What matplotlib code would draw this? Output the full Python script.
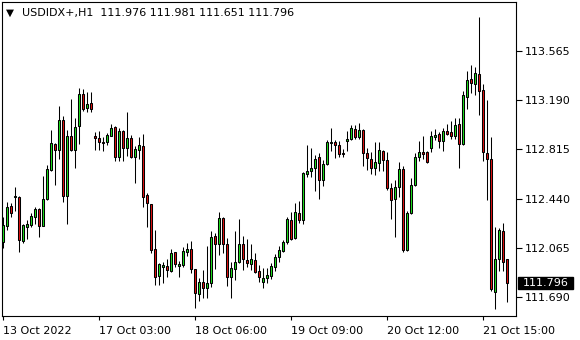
import matplotlib
matplotlib.use("Agg")
import matplotlib.pyplot as plt
from matplotlib.patches import Rectangle
import matplotlib.transforms as mtransforms
import numpy as np

# hourly candles
opens = [112.111, 112.233, 112.382, 112.455, 112.453, 112.119, 112.226, 112.241, 112.302, 112.359,
         112.233, 112.435, 112.660, 112.856, 112.810, 113.040, 112.463, 112.918, 112.807, 112.996,
         113.241, 113.129, 113.170, 112.918, 112.902, 112.874, 112.872, 112.920, 112.986, 112.761,
         112.958, 112.823, 112.902, 112.761, 112.807, 112.843, 112.466, 112.397, 112.053, 111.851,
         111.920, 111.925, 111.889, 112.030, 111.927, 111.933, 112.034, 112.055, 111.900, 111.708,
         111.800, 111.754, 111.793, 112.155, 112.091, 112.292, 112.091, 111.843, 111.900, 111.953,
         112.091, 111.971, 111.940, 111.971, 111.884, 111.800, 111.831, 111.849, 111.920, 111.992,
         112.042, 112.106, 112.277, 112.137, 112.328, 112.272, 112.629, 112.647, 112.677, 112.757,
         112.578, 112.700, 112.861, 112.874, 112.849, 112.787, 112.876, 112.895, 112.973, 112.907,
         112.966, 112.787, 112.742, 112.677, 112.711, 112.805, 112.736, 112.522, 112.435, 112.527,
         112.667, 112.047, 112.333, 112.545, 112.757, 112.795, 112.795, 112.826, 112.907, 112.933,
         112.876, 112.958, 112.948, 112.915, 113.012, 112.859, 113.216, 113.356, 113.318, 113.394,
         113.272, 112.787, 112.744, 111.728, 111.979, 112.193, 111.976]
highs = [112.302, 112.417, 112.405, 112.530, 112.461, 112.246, 112.277, 112.333, 112.374, 112.367,
         112.614, 112.698, 112.966, 112.866, 113.149, 113.073, 112.966, 113.203, 113.055, 113.285,
         113.277, 113.251, 113.257, 112.951, 112.956, 112.910, 112.941, 113.012, 112.991, 112.979,
         112.966, 113.101, 112.928, 112.838, 112.910, 112.935, 112.481, 112.400, 112.200, 111.950,
         111.953, 111.976, 112.055, 112.032, 111.963, 112.073, 112.099, 112.116, 111.902, 111.831,
         111.894, 112.080, 112.188, 112.175, 112.338, 112.302, 112.137, 111.958, 112.193, 112.285,
         112.155, 112.132, 112.093, 112.022, 111.933, 111.907, 111.907, 111.950, 112.017, 112.078,
         112.124, 112.302, 112.336, 112.409, 112.422, 112.639, 112.851, 112.826, 112.774, 112.787,
         112.731, 112.884, 112.981, 112.889, 112.876, 112.818, 112.958, 113.004, 112.999, 113.017,
         112.970, 112.826, 112.795, 112.869, 112.869, 112.807, 112.795, 112.558, 112.583, 112.716,
         112.685, 112.341, 112.596, 112.787, 112.882, 112.915, 112.805, 112.958, 112.973, 112.951,
         112.979, 113.009, 113.035, 113.055, 113.055, 113.264, 113.417, 113.463, 113.443, 113.825,
         113.318, 113.190, 112.907, 112.221, 112.213, 112.252, 111.981]
lows = [112.065, 112.200, 112.300, 112.346, 112.034, 112.103, 112.134, 112.226, 112.246, 112.149,
        112.228, 112.430, 112.654, 112.545, 112.744, 112.417, 112.246, 112.803, 112.677, 112.859,
        113.111, 113.098, 113.098, 112.810, 112.813, 112.803, 112.846, 112.915, 112.723, 112.723,
        112.723, 112.767, 112.749, 112.558, 112.742, 112.374, 112.221, 112.027, 111.780, 111.780,
        111.797, 111.843, 111.881, 111.920, 111.843, 111.920, 112.004, 111.874, 111.606, 111.659,
        111.678, 111.678, 111.767, 111.900, 112.009, 112.022, 111.772, 111.678, 111.818, 111.946,
        111.894, 111.920, 111.894, 111.869, 111.805, 111.759, 111.793, 111.826, 111.889, 111.958,
        112.034, 112.093, 112.124, 112.129, 112.256, 112.246, 112.604, 112.608, 112.501, 112.435,
        112.532, 112.693, 112.800, 112.746, 112.757, 112.761, 112.803, 112.889, 112.897, 112.897,
        112.685, 112.660, 112.629, 112.621, 112.647, 112.647, 112.507, 112.287, 112.149, 112.448,
        112.034, 112.042, 112.323, 112.537, 112.723, 112.742, 112.711, 112.792, 112.884, 112.823,
        112.800, 112.928, 112.895, 112.895, 112.677, 112.851, 113.127, 113.247, 113.228, 113.081,
        112.723, 112.425, 111.736, 111.596, 111.889, 111.889, 111.651]
closes = [112.239, 112.377, 112.333, 112.457, 112.126, 112.237, 112.246, 112.308, 112.359, 112.233,
          112.435, 112.665, 112.864, 112.810, 113.040, 112.463, 112.918, 112.807, 112.986, 113.241,
          113.124, 113.165, 113.121, 112.899, 112.869, 112.864, 112.928, 112.979, 112.761, 112.958,
          112.823, 112.902, 112.757, 112.818, 112.851, 112.455, 112.405, 112.047, 111.843, 111.940,
          111.933, 111.897, 112.022, 111.940, 111.940, 112.040, 112.055, 111.900, 111.716, 111.800,
          111.754, 111.795, 112.149, 112.091, 112.292, 112.091, 111.843, 111.907, 111.953, 112.091,
          111.976, 111.946, 111.976, 111.877, 111.839, 111.831, 111.854, 111.925, 111.992, 112.047,
          112.106, 112.285, 112.129, 112.336, 112.272, 112.634, 112.647, 112.677, 112.742, 112.578,
          112.706, 112.874, 112.874, 112.851, 112.780, 112.780, 112.897, 112.981, 112.907, 112.966,
          112.787, 112.749, 112.673, 112.719, 112.813, 112.731, 112.517, 112.430, 112.527, 112.667,
          112.047, 112.333, 112.545, 112.761, 112.795, 112.782, 112.716, 112.920, 112.928, 112.876,
          112.958, 112.935, 112.915, 113.004, 112.853, 113.234, 113.348, 113.323, 113.400, 113.259,
          112.792, 112.742, 111.747, 111.979, 112.200, 111.958, 111.796]

price_ticks = [113.565, 113.190, 112.815, 112.440, 112.065, 111.690]
time_tick_bars = [0, 24, 48, 72, 96, 120]
time_tick_labels = ["13 Oct 2022", "17 Oct 03:00", "18 Oct 06:00",
                    "19 Oct 09:00", "20 Oct 12:00", "21 Oct 15:00"]
symbol = "USDIDX+,H1"
last_price = closes[-1]

bull_col = "#1ee01e"
bear_col = "#e01010"

fig = plt.figure(figsize=(5.8, 3.4), dpi=100)
ax = fig.add_axes([2 / 580, 24 / 340, 514 / 580, 314 / 340])

o = np.array(opens)
h = np.array(highs)
l = np.array(lows)
c = np.array(closes)
x = np.arange(len(o))

# wicks then bodies
ax.vlines(x, l, h, color="black", linewidth=0.75, zorder=2)
body_bottom = np.minimum(o, c)
body_height = np.abs(c - o)
colors = [bull_col if cc >= oo else bear_col for oo, cc in zip(o, c)]
ax.bar(x, body_height, bottom=body_bottom, width=0.5, color=colors,
       edgecolor="black", linewidth=0.75, zorder=3)

ax.set_xlim(-0.3, 128.2)
ax.set_ylim(111.542, 113.942)

# price axis on the right
ax.yaxis.tick_right()
ax.set_yticks(price_ticks)
ax.set_yticklabels(["%.3f" % p for p in price_ticks])
ax.tick_params(axis="y", direction="out", length=4, width=0.8, pad=2,
               labelsize=8, colors="black")

ax.set_xticks(time_tick_bars)
ax.set_xticklabels(time_tick_labels, ha="left")
ax.tick_params(axis="x", direction="out", length=3, width=0.8, pad=4,
               labelsize=8, colors="black")

for sp in ax.spines.values():
    sp.set_color("black")
    sp.set_linewidth(0.8)

# header text
ax.text(4 / 514, 0.966, "\u25bc", transform=ax.transAxes, fontsize=7.5,
        va="center", ha="left", color="black")
ax.text(20 / 514, 0.965,
        "%s  %.3f %.3f %.3f %.3f" % (symbol, opens[-1], highs[-1], lows[-1], closes[-1]),
        transform=ax.transAxes, fontsize=8, va="center", ha="left", color="black")

# current price box
trans = mtransforms.blended_transform_factory(ax.transAxes, ax.transData)
box_h = 11.6 / 130.67
ax.add_patch(Rectangle((1.004, last_price - box_h / 2 - 0.004), 0.107, box_h,
                       transform=trans, facecolor="black", edgecolor="black",
                       clip_on=False, zorder=5))
ax.text(1.0 + 7 / 514, last_price - 0.004, "%.3f" % last_price, transform=trans,
        fontsize=8, color="white", va="center", ha="left", zorder=6)

fig.savefig("out.png", dpi=100)
